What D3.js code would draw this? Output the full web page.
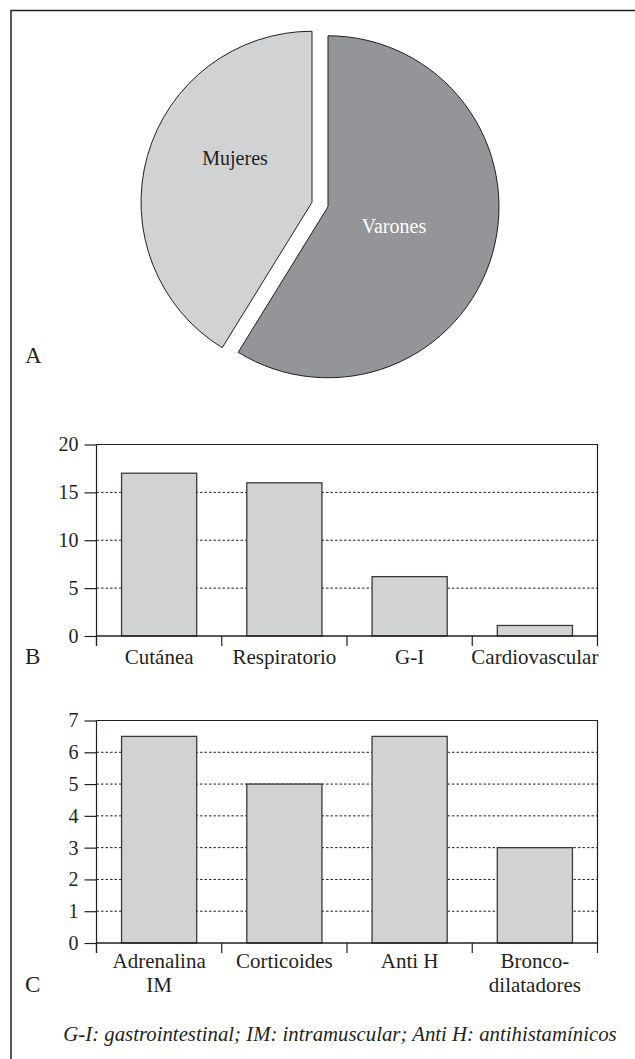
<!DOCTYPE html>
<html>
<head>
<meta charset="utf-8">
<script src="https://cdn.jsdelivr.net/npm/d3@7"></script>
<style>
  body { margin: 0; background: #fff; }
  text { font-family: "Liberation Serif", "DejaVu Serif", serif; fill: #231f20; }
</style>
</head>
<body>
<div id="chart-area"></div>
<script>
// A: sexo
const sexLabels = ["Varones", "Mujeres"];
const sexValues = [58.8, 41.2];

// B: sintomas
const symptomCats = ["Cutánea", "Respiratorio", "G-I", "Cardiovascular"];
const symptomValues = [17, 16, 6.2, 1.1];
const symptomTicks = [0, 5, 10, 15, 20];

// C: tratamiento
const treatCats = [["Adrenalina", "IM"], ["Corticoides"], ["Anti H"], ["Bronco-", "dilatadores"]];
const treatValues = [6.5, 5, 6.5, 3];
const treatTicks = [0, 1, 2, 3, 4, 5, 6, 7];

const caption = "G-I: gastrointestinal; IM: intramuscular; Anti H: antihistamínicos";

const W = 635, H = 1059;
const ink = "#231f20";

const svg = d3.select("#chart-area").append("svg")
    .attr("width", W)
    .attr("height", H)
    .attr("font-family", "Liberation Serif, DejaVu Serif, serif");

// outer frame (top + left only, the rest is cropped)
svg.append("path")
    .attr("d", `M11,${H} L11,10.5 L${W},10.5`)
    .attr("fill", "none")
    .attr("stroke", ink)
    .attr("stroke-width", 1.5);

// ---------- A: pie ----------
const pieCenter = { x: 320, y: 204.5 };
const radius = 171;
const explode = 8.3;

const pie = d3.pie().sort(null).startAngle(0).endAngle(2 * Math.PI);
const arc = d3.arc().innerRadius(0).outerRadius(radius);
const pieData = pie(sexValues);
const pieFill = ["#939598", "#d1d2d4"];
const labelFill = ["#ffffff", ink];
// label nudges relative to the slice centre
const labelPos = [[66, 19], [-77, -44]];

const pg = svg.append("g").attr("transform", `translate(${pieCenter.x}, ${pieCenter.y})`);
const slices = pg.selectAll("g.slice").data(pieData).enter().append("g")
    .attr("class", "slice")
    .attr("transform", d => {
        const a = (d.startAngle + d.endAngle) / 2;
        return `translate(${Math.sin(a) * explode}, ${-Math.cos(a) * explode})`;
    });
slices.append("path")
    .attr("d", arc)
    .attr("fill", (d, i) => pieFill[i])
    .attr("stroke", ink)
    .attr("stroke-width", 1);
slices.append("text")
    .attr("x", (d, i) => labelPos[i][0])
    .attr("y", (d, i) => labelPos[i][1])
    .attr("dy", "0.35em")
    .attr("text-anchor", "middle")
    .attr("font-size", "20px")
    .style("fill", (d, i) => labelFill[i])
    .text((d, i) => sexLabels[i]);

svg.append("text").attr("x", 25).attr("y", 363).attr("font-size", "23px").text("A");

// ---------- bar charts ----------
function barChart(cfg) {
    const x = d3.scaleBand()
        .domain(d3.range(cfg.values.length))
        .range([96.5, 597.5])
        .paddingInner(0.4)
        .paddingOuter(0.2);
    const y = d3.scaleLinear()
        .domain([0, d3.max(cfg.ticks)])
        .range([cfg.bottom, cfg.top]);

    const g = svg.append("g");

    // dashed grid
    g.selectAll("line.grid")
        .data(cfg.ticks.slice(1, -1))
        .enter().append("line")
        .attr("x1", 96.5).attr("x2", 597.5)
        .attr("y1", d => y(d)).attr("y2", d => y(d))
        .attr("stroke", ink)
        .attr("stroke-width", 1)
        .attr("stroke-dasharray", "2.5,2");

    // top and right frame
    g.append("path")
        .attr("d", `M96.5,${y(d3.max(cfg.ticks))} H597.5 V${cfg.bottom}`)
        .attr("fill", "none")
        .attr("stroke", ink)
        .attr("stroke-width", 1.2);

    g.selectAll("rect")
        .data(cfg.values)
        .enter().append("rect")
        .attr("x", (d, i) => x(i))
        .attr("y", d => y(d))
        .attr("width", x.bandwidth())
        .attr("height", d => cfg.bottom - y(d))
        .attr("fill", "#d1d2d4")
        .attr("stroke", "#3a3a3a")
        .attr("stroke-width", 1.3);

    const yAxis = g.append("g")
        .attr("transform", "translate(96.5, 0)")
        .call(d3.axisLeft(y).tickValues(cfg.ticks).tickSize(12).tickPadding(6).tickFormat(d3.format("d")));
    yAxis.attr("font-family", null).attr("font-size", null);
    yAxis.selectAll("text")
        .attr("font-size", "20px")
        .style("fill", ink);
    yAxis.selectAll(".domain, .tick line").attr("stroke", ink).attr("stroke-width", 1.2);
    yAxis.select(".domain").attr("d", `M0,${cfg.top}V${cfg.bottom + 10}`);

    // x baseline with ticks at band edges
    const edges = d3.range(cfg.values.length + 1).map(i => 96.5 + i * x.step());
    g.append("line")
        .attr("x1", 96.5).attr("x2", 597.5)
        .attr("y1", cfg.bottom).attr("y2", cfg.bottom)
        .attr("stroke", ink).attr("stroke-width", 1.5);
    g.selectAll("line.xtick")
        .data(edges)
        .enter().append("line")
        .attr("x1", d => d).attr("x2", d => d)
        .attr("y1", cfg.bottom).attr("y2", cfg.bottom + 10)
        .attr("stroke", ink).attr("stroke-width", 1.2);

    const labels = g.selectAll("text.cat")
        .data(cfg.cats)
        .enter().append("text")
        .attr("class", "cat")
        .attr("text-anchor", "middle")
        .attr("font-size", "21px")
        .attr("x", (d, i) => x(i) + x.bandwidth() / 2)
        .attr("y", cfg.bottom + cfg.labelGap);
    labels.selectAll("tspan")
        .data(d => Array.isArray(d) ? d : [d])
        .enter().append("tspan")
        .attr("x", function () { return d3.select(this.parentNode).attr("x"); })
        .attr("dy", (d, i) => i === 0 ? 0 : 24)
        .text(d => d);

    svg.append("text").attr("x", 25).attr("y", cfg.letterY).attr("font-size", "23px").text(cfg.letter);
}

barChart({
    values: symptomValues, cats: symptomCats, ticks: symptomTicks,
    top: 444.5, bottom: 636, labelGap: 28, letter: "B", letterY: 664
});
barChart({
    values: treatValues, cats: treatCats, ticks: treatTicks,
    top: 720.5, bottom: 943, labelGap: 25, letter: "C", letterY: 992
});

svg.append("text")
    .attr("x", 340)
    .attr("y", 1041)
    .attr("text-anchor", "middle")
    .attr("font-size", "20.8px")
    .attr("font-style", "italic")
    .text(caption);
</script>
</body>
</html>
